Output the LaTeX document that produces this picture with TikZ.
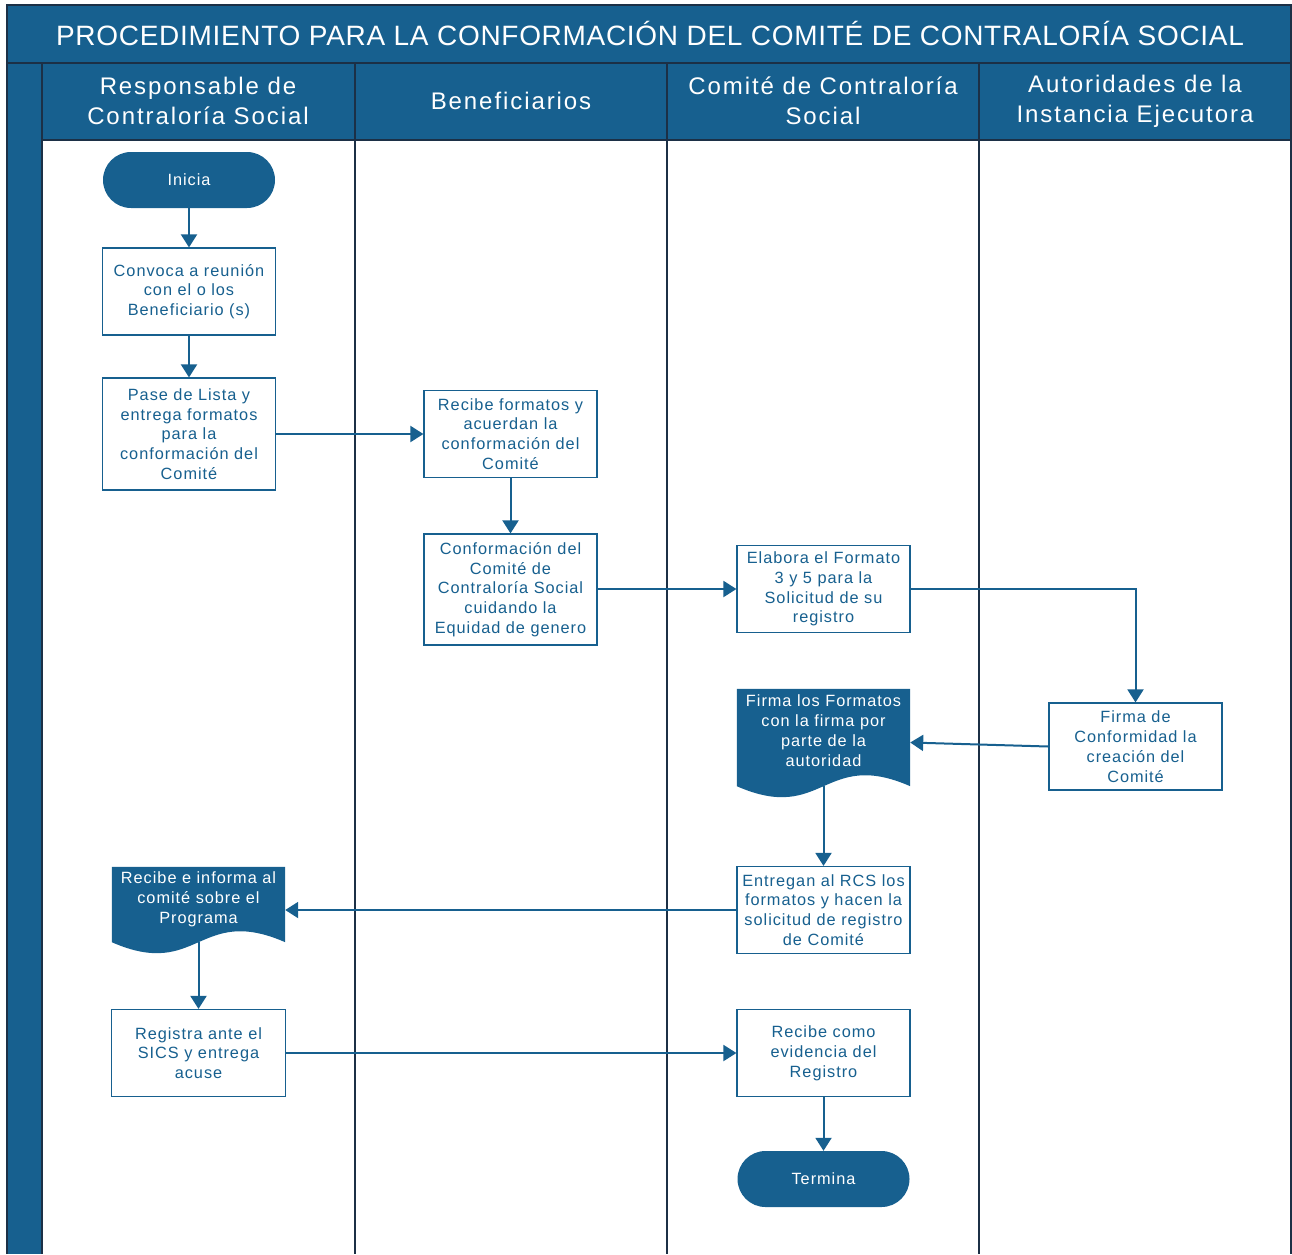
\documentclass[tikz,border=0pt]{standalone}
\usepackage{fontspec}
\setmainfont{Liberation Sans}
\newfontfamily\boxfont[LetterSpace=6]{Liberation Sans}
\newfontfamily\headfont[LetterSpace=8]{Liberation Sans}
\newfontfamily\titlefont[LetterSpace=2.5]{Liberation Sans}
\usetikzlibrary{arrows.meta,calc}
\definecolor{mblue}{RGB}{23,96,143}
\definecolor{mline}{RGB}{28,48,70}
\tikzset{
  procbox/.style={draw=mblue,line width=1.2pt,fill=white,text=mblue,align=center,
    minimum width=173pt,minimum height=87pt,inner sep=0pt,font=\boxfont\fontsize{16.3}{19.8}\selectfont},
  termbox/.style={fill=mblue,text=white,align=center,rounded corners=28pt,
    minimum width=172pt,minimum height=56pt,inner sep=0pt,font=\boxfont\fontsize{16.3}{20}\selectfont},
  docarea/.style={minimum width=173pt,inner sep=0pt},
  doctext/.style={text=white,align=center,inner sep=0pt,font=\boxfont\fontsize{16.3}{20}\selectfont},
  headtext/.style={text=white,align=center,font=\headfont\fontsize{24}{30}\selectfont},
  flow/.style={draw=mblue,line width=2pt,-{Triangle[length=13pt,width=16pt]}},
  lane/.style={draw=mline,line width=1.5pt}
}
\begin{document}
\begin{tikzpicture}[x=1pt,y=-1pt]
\useasboundingbox (0,0) rectangle (1292,1254);
% frame
\fill[mblue] (7,5) rectangle (1291,63);
\fill[mblue] (7,63) rectangle (42,1254);
\fill[mblue] (42,63) rectangle (1291,140);
\draw[lane] (7,1254) -- (7,5) -- (1291,5) -- (1291,1254);
\draw[lane] (7,63) -- (1291,63);
\draw[lane] (42,140) -- (1291,140);
\draw[lane] (42,63) -- (42,1254);
\draw[lane] (355,63) -- (355,1254);
\draw[lane] (667,63) -- (667,1254);
\draw[lane] (979,63) -- (979,1254);
% title and headers
\node[text=white,font=\titlefont\fontsize{28}{32}\selectfont] (title) at (650,33) {PROCEDIMIENTO PARA LA CONFORMACIÓN DEL COMITÉ DE CONTRALORÍA SOCIAL};
\node[headtext] (h1) at (198,101) {Responsable de\\Contraloría Social};
\node[headtext] (h2) at (511,101) {Beneficiarios};
\node[headtext] (h3) at (823,101) {Comité de Contraloría\\Social};
\node[headtext] (h4) at (1135,101) {Autoridades de la\\Instancia Ejecutora};
% nodes
\node[termbox] (inicia) at (189,180) {Inicia};
\node[procbox] (convoca) at (189,291.5) {Convoca a reunión\\con el o los\\Beneficiario (s)};
\node[procbox,minimum height=112pt] (pase) at (189,434) {Pase de Lista y\\entrega formatos\\para la\\conformación del\\Comité};
\node[procbox] (recibef) at (510.5,434) {Recibe formatos y\\acuerdan la\\conformación del\\Comité};
\node[procbox,minimum height=111pt] (conform) at (510.5,589.5) {Conformación del\\Comité de\\Contraloría Social\\cuidando la\\Equidad de genero};
\node[procbox] (elabora) at (823.5,589) {Elabora el Formato\\3 y 5 para la\\Solicitud de su\\registro};
\node[procbox] (firmac) at (1135.5,746.5) {Firma de\\Conformidad la\\creación del\\Comité};
% document: Firma los Formatos
\node[docarea,minimum height=97pt] (fdoc) at (823.5,737.5) {};
\fill[mblue] (fdoc.south east) -- (fdoc.north east) -- (fdoc.north west) -- (fdoc.south west)
  .. controls ($(fdoc.south)+(0,38)$) and ($(fdoc.south)+(0,-38)$) .. (fdoc.south east) -- cycle;
\node[doctext] (fdoct) at (823.5,731) {Firma los Formatos\\con la firma por\\parte de la\\autoridad};
\node[procbox] (entregan) at (823.5,910) {Entregan al RCS los\\formatos y hacen la\\solicitud de registro\\de Comité};
% document: Recibe e informa
\node[docarea,minimum height=75pt] (rdoc) at (198.5,904.5) {};
\fill[mblue] (rdoc.south east) -- (rdoc.north east) -- (rdoc.north west) -- (rdoc.south west)
  .. controls ($(rdoc.south)+(0,38)$) and ($(rdoc.south)+(0,-38)$) .. (rdoc.south east) -- cycle;
\node[doctext] (rdoct) at (198.5,899) {Recibe e informa al\\comité sobre el\\Programa};
\node[procbox,minimum width=174pt] (registra) at (198.5,1053) {Registra ante el\\SICS y entrega\\acuse};
\node[procbox] (evid) at (823.5,1053) {Recibe como\\evidencia del\\Registro};
\node[termbox] (termina) at (823.5,1179) {Termina};
% connectors
\draw[flow] (inicia) -- (inicia |- convoca.north);
\draw[flow] (convoca) -- (pase);
\draw[flow] (pase) -- (recibef);
\draw[flow] (recibef) -- (conform);
\draw[flow] (conform.east |- elabora.west) -- (elabora.west);
\draw[flow] (elabora.east) -| (firmac.north);
\draw[flow] (firmac.west) -- ([yshift=-5pt]fdoc.east);
\draw[flow] (fdoc.south) -- (entregan.north);
\draw[flow] (entregan.west) -- (entregan.west -| rdoc.east);
\draw[flow] (rdoc.south) -- (registra.north);
\draw[flow] (registra) -- (evid);
\draw[flow] (evid) -- (termina);
\end{tikzpicture}
\end{document}
